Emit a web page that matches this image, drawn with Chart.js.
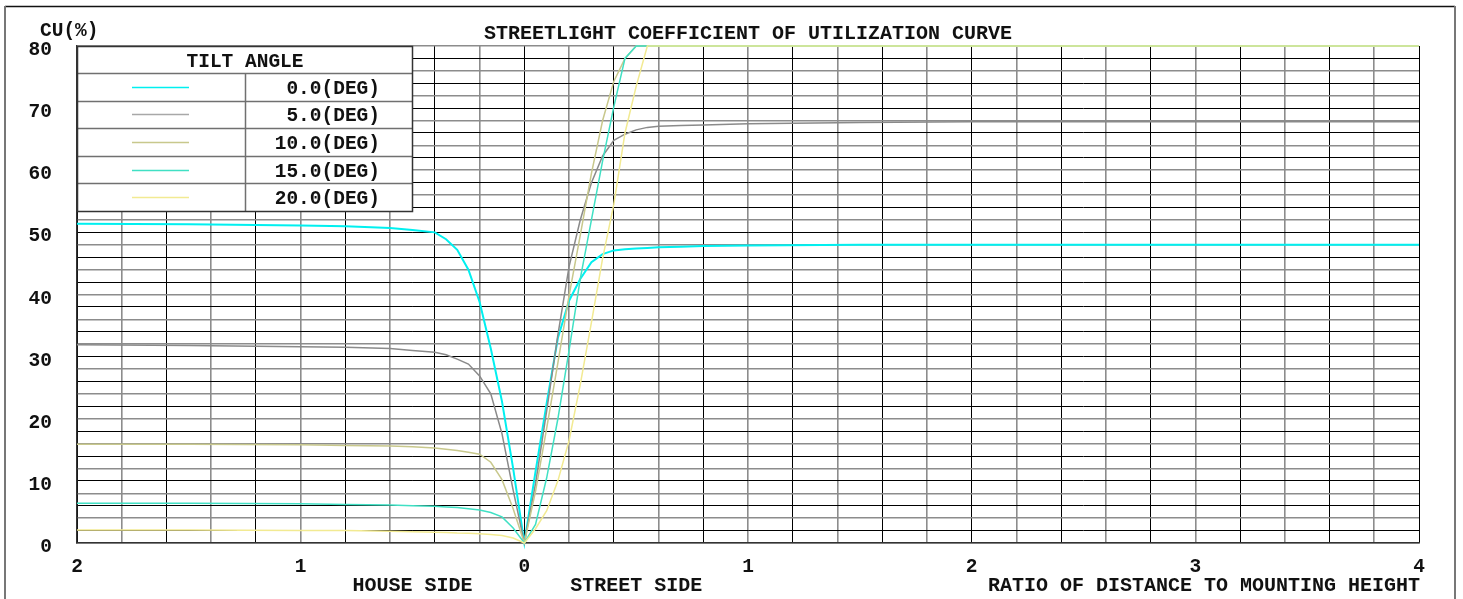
<!DOCTYPE html>
<html><head><meta charset="utf-8">
<script src="https://cdn.jsdelivr.net/npm/chart.js@4.4.1/dist/chart.umd.min.js"></script>
<style>html,body{margin:0;padding:0;background:#fff;}canvas{display:block;}</style>
</head><body>
<canvas id="c" width="1463" height="599"></canvas>
<script>
// ---- data ----
const xValues = [-2, -1.5, -1, -0.8, -0.6, -0.5, -0.4, -0.35, -0.3, -0.25, -0.2, -0.15, -0.1, -0.05, 0,
  0.05, 0.1, 0.15, 0.2, 0.25, 0.3, 0.35, 0.4, 0.45, 0.5, 0.55, 0.6, 0.7, 0.8, 1.0, 1.5, 2, 3, 4];
const cu0  = [51.4, 51.3, 51.1, 51.0, 50.7, 50.4, 50.0, 48.9, 47.2, 44.0, 38.8, 31.3, 22.8, 12.0, 0,
  11.5, 22.5, 33.0, 39.0, 42.5, 45.2, 46.5, 47.1, 47.3, 47.4, 47.5, 47.6, 47.7, 47.8, 47.9, 48.0, 48.0, 48.0, 48.0];
const cu5  = [31.9, 31.8, 31.6, 31.5, 31.3, 31.0, 30.7, 30.3, 29.6, 28.8, 26.9, 24.0, 17.6, 8.5, 0,
  9.5, 21.3, 33.5, 44.5, 52.0, 58.0, 62.3, 64.8, 65.8, 66.5, 66.9, 67.1, 67.2, 67.3, 67.5, 67.7, 67.8, 67.8, 67.8];
const cu10 = [15.9, 15.9, 15.8, 15.7, 15.6, 15.5, 15.3, 15.1, 14.9, 14.6, 14.3, 13.0, 10.2, 5.5, 0,
  8.3, 18.5, 29.0, 39.8, 49.5, 59.5, 68.0, 74.3, 78.0, 80, 80, 80, 80, 80, 80, 80, 80, 80, 80];
const cu15 = [6.4, 6.4, 6.3, 6.2, 6.1, 6.0, 5.9, 5.8, 5.7, 5.5, 5.3, 4.9, 4.2, 2.4, 0,
  3.0, 10.5, 20.0, 31.0, 42.5, 52.0, 61.5, 70.2, 78.0, 80, 80, 80, 80, 80, 80, 80, 80, 80, 80];
const cu20 = [2.1, 2.1, 2.0, 2.0, 1.9, 1.8, 1.75, 1.7, 1.6, 1.55, 1.5, 1.35, 1.2, 0.8, 0,
  2.3, 5.2, 10.0, 16.5, 25.5, 35.5, 45.8, 54.5, 66.0, 73.5, 80, 80, 80, 80, 80, 80, 80, 80, 80];

const seriesNames  = ['0.0(DEG)', '5.0(DEG)', '10.0(DEG)', '15.0(DEG)', '20.0(DEG)'];
const seriesValues = [cu0, cu5, cu10, cu15, cu20];
const seriesColors = ['#00F0F0', '#8A8A8A', '#C8C88C', '#40E0C4', '#F2EA92'];
const legendColors = ['#00F0F0', '#A8A8A8', '#C8C88C', '#40E0C4', '#F2EA92'];

const yTickValues = [0, 10, 20, 30, 40, 50, 60, 70, 80];
const xTickValues = [-2, -1, 0, 1, 2, 3, 4];
const xTickLabels = ['2', '1', '0', '1', '2', '3', '4'];
const sideLabelValues = [-0.5, 0.5];
const sideLabels = ['HOUSE SIDE', 'STREET SIDE'];
const chartTitle = 'STREETLIGHT COEFFICIENT OF UTILIZATION CURVE';
const yAxisTitle = 'CU(%)';
const xAxisTitle = 'RATIO OF DISTANCE TO MOUNTING HEIGHT';
const legendTitle = 'TILT ANGLE';

// ---- chart ----
const MONO = '"Liberation Mono", "Courier New", monospace';

const overlay = {
  id: 'overlay',
  afterDraw(chart) {
    const ctx = chart.ctx, xs = chart.scales.x, ys = chart.scales.y, a = chart.chartArea;
    ctx.save();
    // outer frame
    ctx.lineWidth = 1.5; ctx.strokeStyle = '#111';
    ctx.beginPath(); ctx.moveTo(5, 6.5); ctx.lineTo(1455, 6.5); ctx.stroke();
    ctx.lineWidth = 2; ctx.strokeStyle = '#777';
    ctx.beginPath(); ctx.moveTo(5, 6); ctx.lineTo(5, 599); ctx.moveTo(1455, 6); ctx.lineTo(1455, 599); ctx.stroke();

    ctx.fillStyle = '#111';
    // title
    ctx.font = 'bold 20px ' + MONO;
    ctx.textAlign = 'center'; ctx.textBaseline = 'alphabetic';
    ctx.fillText(chartTitle, (a.left + a.right) / 2, 39);
    // y title
    ctx.font = 'bold 19.5px ' + MONO;
    ctx.textAlign = 'left';
    ctx.fillText(yAxisTitle, 40, 36);
    // y ticks
    ctx.textAlign = 'right';
    yTickValues.forEach(v => ctx.fillText(String(v), a.left - 25, ys.getPixelForValue(v) + 9));
    // x ticks
    ctx.textAlign = 'center';
    xTickValues.forEach((v, i) => ctx.fillText(xTickLabels[i], xs.getPixelForValue(v), a.bottom + 29));
    // side labels
    ctx.font = 'bold 20px ' + MONO;
    sideLabelValues.forEach((v, i) => ctx.fillText(sideLabels[i], xs.getPixelForValue(v), a.bottom + 48));
    ctx.textAlign = 'right';
    ctx.fillText(xAxisTitle, a.right + 1, a.bottom + 48);

    // legend table
    const lx0 = a.left, lx1 = 412, ly0 = a.top, headH = 27, rowH = 27.6, colX = 245;
    const ly1 = ly0 + headH + rowH * seriesNames.length;
    ctx.fillStyle = '#fff';
    ctx.fillRect(lx0, ly0, lx1 - lx0, ly1 - ly0);
    ctx.strokeStyle = '#707070'; ctx.lineWidth = 1.5;
    ctx.beginPath();
    for (let i = 0; i < seriesNames.length; i++) {
      const y = Math.round(ly0 + headH + rowH * i) + 0.5;
      ctx.moveTo(lx0, y); ctx.lineTo(lx1, y);
    }
    ctx.moveTo(colX + 0.5, ly0 + headH); ctx.lineTo(colX + 0.5, ly1);
    ctx.stroke();
    ctx.strokeStyle = '#333'; ctx.lineWidth = 1.5;
    ctx.strokeRect(lx0 + 0.5, ly0 + 0.5, lx1 - lx0, ly1 - ly0);
    ctx.fillStyle = '#111';
    ctx.textAlign = 'center';
    ctx.font = 'bold 19.5px ' + MONO;
    ctx.fillText(legendTitle, colX, ly0 + headH / 2 + 7);
    ctx.textAlign = 'right';
    seriesNames.forEach((name, i) => {
      const cy = ly0 + headH + rowH * i + rowH / 2;
      ctx.strokeStyle = legendColors[i]; ctx.lineWidth = 1.5;
      ctx.beginPath(); ctx.moveTo(132, Math.round(cy) + 0.5); ctx.lineTo(189, Math.round(cy) + 0.5); ctx.stroke();
      ctx.fillText(name, 380, cy + 7);
    });
    ctx.restore();
  }
};

new Chart(document.getElementById('c'), {
  type: 'line',
  data: {
    datasets: seriesValues.map((vals, i) => ({
      label: seriesNames[i],
      data: xValues.map((x, j) => ({ x: x, y: vals[j] })),
      borderColor: seriesColors[i],
      borderWidth: i === 0 ? 2 : 1.5,
      pointRadius: 0,
      tension: 0,
      fill: false,
      clip: false,
      order: seriesNames.length - i
    }))
  },
  options: {
    responsive: false,
    animation: false,
    events: [],
    layout: { padding: { left: 77, top: 46, right: 44, bottom: 56 } },
    plugins: { legend: { display: false }, title: { display: false }, tooltip: { enabled: false } },
    scales: {
      x: {
        type: 'linear', min: -2, max: 4,
        ticks: { display: false, stepSize: 0.2 },
        grid: { drawTicks: false, color: c => (c.index % 2 ? '#8c8c8c' : '#000'), lineWidth: c => (c.index % 2 ? 1.6 : 1) },
        border: { display: true, color: '#333', width: 1.5 }
      },
      y: {
        type: 'linear', min: 0, max: 80,
        ticks: { display: false, stepSize: 2 },
        grid: { drawTicks: false, color: c => (c.index % 2 ? '#000' : '#8c8c8c'), lineWidth: c => (c.index % 2 ? 1 : 1.6) },
        border: { display: true, color: '#333', width: 1.5 }
      }
    }
  },
  plugins: [overlay]
});
</script>
</body></html>
